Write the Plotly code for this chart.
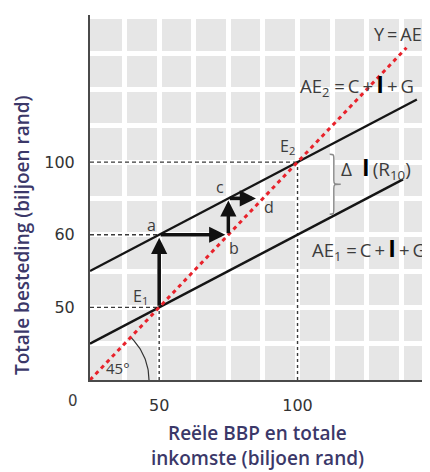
import numpy as np
import plotly.graph_objects as go

# ---- schematic axis (one grid cell = one unit) ----
x_tick_pos = [2, 6]
x_tick_labels = ["50", "100"]
y_tick_pos = [2, 4, 6]
y_tick_labels = ["50", "60", "100"]

# ---- aggregate expenditure lines ----
ae1_intercept = 1.0
ae2_intercept = 3.0
mpc = 0.5
ae1_x = [0, 9.05]
ae2_x = [0, 9.45]
y_ae_x = [0, 9.15]

# ---- key points ----
point_names = ["E1", "a", "b", "c", "d", "E2"]
point_x = [2, 2, 4, 4, 5, 6]
point_y = [2, 4, 4, 5, 5, 6]
P = {n: (x, y) for n, x, y in zip(point_names, point_x, point_y)}

# multiplier path arrows
arrow_from = ["E1", "a", "b", "c"]
arrow_to = ["a", "b", "c", "d"]
arrow_standoff = [3, 3, 2, 7]

# layout geometry (page body has an 8px margin)
OFF = 8
WIN_W, WIN_H = 430, 472
W, H = WIN_W - OFF, WIN_H - OFF
PLOT_L, PLOT_T, PLOT_B = 90, 15, 380          # plot box in window pixels
ML, MT = PLOT_L - OFF, PLOT_T - OFF
MB = WIN_H - PLOT_B
MR = 0
x_range = [0, 9.83]
y_range = [0, 10.05]
PW, PH = W - ML - MR, H - MT - MB
px_x = PW / (x_range[1] - x_range[0])
px_y = PH / (y_range[1] - y_range[0])


def paper_x(px):
    return (px - PLOT_L) / PW


def paper_y(py):
    return (PLOT_B - py) / PH


LBL = "#3c3c3c"
TITLE = "#3b3869"
FONT = "Open Sans"
TS = "\u2009"

fig = go.Figure()

guide = dict(color="#3a3a3a", width=1.4, dash="4px,3px")
for name, vert in [("E1", True), ("a", False), ("E2", True)]:
    px_, py_ = P[name]
    fig.add_trace(go.Scatter(x=[0, px_], y=[py_, py_], mode="lines", line=guide,
                             hoverinfo="skip", showlegend=False))
    if vert:
        fig.add_trace(go.Scatter(x=[px_, px_], y=[0, py_], mode="lines",
                                 line=dict(color="#3a3a3a", width=1.4, dash="3px,3px"),
                                 hoverinfo="skip", showlegend=False))

# AE lines
for xs, b in [(ae1_x, ae1_intercept), (ae2_x, ae2_intercept)]:
    xs = np.array(xs)
    fig.add_trace(go.Scatter(x=xs, y=b + mpc * xs, mode="lines",
                             line=dict(color="#151515", width=2.4),
                             hoverinfo="skip", showlegend=False))

# 45 degree arc
r_px = 59
ang = np.radians(np.linspace(0, np.degrees(np.arctan(px_y / px_x)), 40))
fig.add_trace(go.Scatter(x=r_px * np.cos(ang) / px_x, y=r_px * np.sin(ang) / px_y,
                         mode="lines", line=dict(color="#333", width=1.2),
                         hoverinfo="skip", showlegend=False))

# Y = AE line
fig.add_trace(go.Scatter(x=y_ae_x, y=y_ae_x, mode="lines",
                         line=dict(color="#e8222b", width=3, dash="4px,4px"),
                         hoverinfo="skip", showlegend=False))

# brace between AE2 and AE1
bx = 6.93
by0 = ae1_intercept + mpc * bx + 0.1
by1 = ae2_intercept + mpc * bx - 0.25
bym = (by0 + by1) / 2
xs_ = bx + 0.12
xt = bx + 0.32
path = (f"M{bx},{by1} C{xs_},{by1} {xs_},{by1} {xs_},{by1-0.15} "
        f"L{xs_},{bym+0.12} C{xs_},{bym} {xs_},{bym} {xt},{bym} "
        f"C{xs_},{bym} {xs_},{bym} {xs_},{bym-0.12} "
        f"L{xs_},{by0+0.15} C{xs_},{by0} {xs_},{by0} {bx},{by0}")
fig.add_shape(type="path", path=path, xref="x", yref="y",
              line=dict(color="#8a8a8a", width=1.5))

# arrows
for f, t, so in zip(arrow_from, arrow_to, arrow_standoff):
    fig.add_annotation(x=P[t][0], y=P[t][1], ax=P[f][0], ay=P[f][1],
                       xref="x", yref="y", axref="x", ayref="y",
                       showarrow=True, arrowhead=2, arrowsize=0.9,
                       arrowwidth=3.6, arrowcolor="#111", standoff=so, text="")


def lab(size=16, family=FONT):
    return dict(showarrow=False, xref="x", yref="y",
                font=dict(family=family, size=size, color=LBL))


# point labels
fig.add_annotation(x=P["E1"][0], y=P["E1"][1], text="E<sub>1</sub>", xshift=-19, yshift=11, **lab())
fig.add_annotation(x=P["E2"][0], y=P["E2"][1], text="E<sub>2</sub>", xshift=-10, yshift=16, **lab())
fig.add_annotation(x=P["a"][0], y=P["a"][1], text="a", xshift=-8, yshift=10, **lab())
fig.add_annotation(x=P["b"][0], y=P["b"][1], text="b", xshift=6, yshift=-13, **lab())
fig.add_annotation(x=P["c"][0], y=P["c"][1], text="c", xshift=-8, yshift=11, **lab())
fig.add_annotation(x=P["d"][0], y=P["d"][1], text="d", xshift=6, yshift=-9, **lab())

BIG_I = "<span style='color:#000;font-size:23px'><b>I</b></span>"
EQ = f" ={TS}"
PL = f"{TS}+{TS}"
fig.add_annotation(x=y_ae_x[1], y=y_ae_x[1], text=f"Y{TS}={TS}AE", xanchor="right",
                   xshift=18, yshift=14, **lab(18))
fig.add_annotation(x=ae2_x[1], y=ae2_intercept + mpc * ae2_x[1],
                   text=f"AE<sub>2</sub>{EQ}C{PL}{BIG_I}{PL}G", xanchor="right",
                   xshift=-1, yshift=15, **lab(18.5))
fig.add_annotation(x=ae1_x[1], y=ae1_intercept + mpc * ae1_x[1],
                   text=f"AE<sub>1</sub>{EQ}C{PL}{BIG_I}{PL}G", xanchor="right",
                   xshift=25, yshift=-69, **lab(18.5))
fig.add_annotation(x=xt, y=bym,
                   text=f"Δ  {BIG_I}{TS}(R<sub>10</sub>)", xanchor="left",
                   xshift=-2, yshift=17, **lab(19))
fig.add_annotation(x=0, y=0, text="45°", xanchor="center", xshift=28, yshift=12, **lab(15))
fig.add_annotation(x=0, y=0, text="0", xanchor="center", xshift=-17, yshift=-21,
                   **lab(15, "DejaVu Sans"))

# axis titles
tfont = dict(family=FONT, size=19, color=TITLE, weight=600)
fig.add_annotation(xref="paper", yref="paper", x=paper_x(22), y=paper_y(235),
                   xanchor="center", yanchor="middle",
                   text="Totale besteding (biljoen rand)", textangle=-90, showarrow=False,
                   font=tfont)
fig.add_annotation(xref="paper", yref="paper", x=paper_x(257), y=paper_y(433),
                   xanchor="center", yanchor="middle",
                   text="Reële BBP en totale", showarrow=False, font=tfont)
fig.add_annotation(xref="paper", yref="paper", x=paper_x(257), y=paper_y(458),
                   xanchor="center", yanchor="middle",
                   text="inkomste (biljoen rand)", showarrow=False, font=tfont)

grid = dict(showgrid=True, gridcolor="white", gridwidth=5)
axis_common = dict(tickmode="array", showline=True, linecolor="#4a4a4a", linewidth=2,
                   zeroline=False, ticks="", ticklabelstandoff=10, automargin=False,
                   tickfont=dict(family="DejaVu Sans", size=16, color="#333"),
                   minor=dict(dtick=1, tick0=0, **grid), fixedrange=True, **grid)
fig.update_xaxes(range=x_range, tickvals=x_tick_pos, ticktext=x_tick_labels, **axis_common)
fig.update_yaxes(range=y_range, tickvals=y_tick_pos, ticktext=y_tick_labels, **axis_common)

fig.update_layout(width=W, height=H, margin=dict(l=ML, r=MR, t=MT, b=MB, autoexpand=False),
                  plot_bgcolor="#e6e6e6", paper_bgcolor="white", showlegend=False)

fig.write_html("out.html")
